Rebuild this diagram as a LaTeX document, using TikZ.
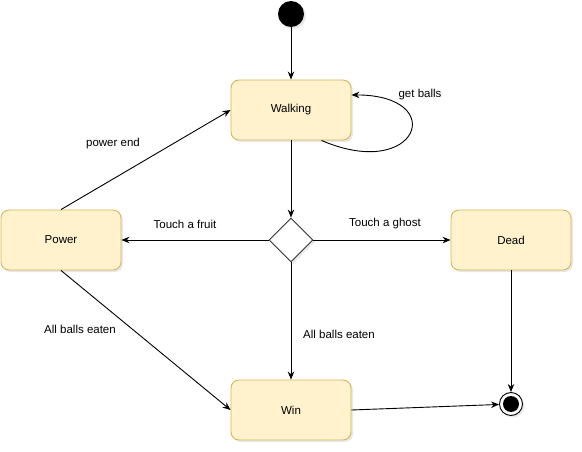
\documentclass[tikz,border=0pt]{standalone}
\usepackage{fontspec}
\setmainfont{Liberation Sans}
\usetikzlibrary{shapes.geometric,arrows.meta,shadows}

\definecolor{statefill}{HTML}{FFF2CC}
\definecolor{stateline}{HTML}{D6B656}

\begin{document}
\begin{tikzpicture}[x=1pt,y=-1pt,
    font=\fontsize{11.5}{14}\selectfont,
    >={Stealth[length=8pt,width=6.5pt]},
    line width=0.9pt]
    \tikzstyle{shade} = [drop shadow={opacity=0.18,shadow xshift=2pt,shadow yshift=-2pt}]
    \tikzstyle{state} = [rectangle, rounded corners=8pt, draw=stateline, fill=statefill,
        minimum width=120pt, minimum height=60pt, shade]
    \tikzstyle{lbl} = [draw=none,fill=none,inner sep=1pt]

    \useasboundingbox (0,0) rectangle (582,452);

    % states
    \node[circle, fill=black, minimum size=26pt, inner sep=0pt, shade] (start) at (291,14) {};
    \node[state] (walk) at (291,110) {Walking};
    \node[state] (power) at (61,240) {Power};
    \node[state] (dead) at (511,240) {Dead};
    \node[state] (win) at (291,410) {Win};
    \node[diamond, draw=black!80, fill=white, minimum size=44pt, inner sep=0pt, shade] (choice) at (291,240) {};
    \node[circle, draw=black, fill=white, minimum size=23pt, inner sep=0pt, shade] (stop) at (511,404) {};
    \fill (stop) circle (8);

    % transitions
    \draw[]  (start) edge[->] node{} (walk);
    \draw[]  (walk) edge[->] node{} (choice);
    \draw[->] (walk.-45) .. controls (418,182) and (450,95) .. (walk.14);
    \draw[]  (choice) edge[->] node{} (power);
    \draw[]  (choice) edge[->] node{} (dead);
    \draw[]  (choice) edge[->] node{} (win);
    \draw[]  (power.north) edge[->] node{} (walk.west);
    \draw[]  (power.south) edge[->] node{} (win.west);
    \draw[]  (dead) edge[->] node{} (stop);
    \draw[]  (win.east) edge[->] node{} (stop);

    % labels
    \node[lbl] at (420,95) {get balls};
    \node[lbl] at (113,144) {power end};
    \node[lbl] at (185,224) {Touch a fruit};
    \node[lbl] at (385,224) {Touch a ghost};
    \node[lbl] at (339,334) {All balls eaten};
    \node[lbl] at (80,329) {All balls eaten};
\end{tikzpicture}
\end{document}
